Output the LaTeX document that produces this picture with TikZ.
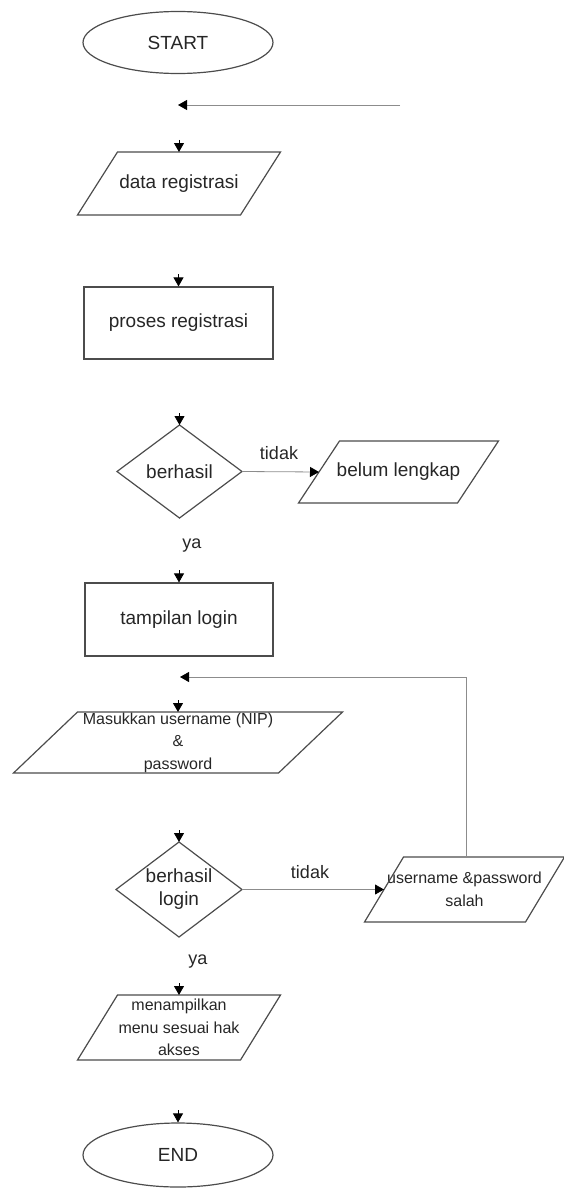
\documentclass[tikz,border=0pt]{standalone}
\usepackage{fontspec}
\setmainfont{Liberation Sans}
\usetikzlibrary{shapes.geometric,arrows.meta}
\begin{document}
\begin{tikzpicture}[x=1pt,y=-1pt,
  every node/.style={text=black!85},
  txt/.style={font=\fontsize{19}{23}\selectfont, align=center},
  small/.style={font=\fontsize{16}{22.5}\selectfont, align=center},
  lbl/.style={font=\fontsize{18}{22}\selectfont, inner sep=0pt},
  term/.style={ellipse, draw=black!70, line width=1.2pt, minimum width=190pt,
    minimum height=62pt, inner sep=0pt, txt},
  procbox/.style={rectangle, draw=black!70, line width=1.2pt, inner sep=0pt, txt},
  frame/.style={rectangle, inner sep=0pt, outer sep=0pt},
  outline/.style={draw=black!70, line width=1.2pt, line join=miter},
  tip/.style={-{Triangle[length=9pt,width=10pt,color=black]}},
  flow/.style={draw=black!45, line width=0.8pt, tip},
  stub/.style={draw=black, line width=0.8pt, tip}
]
\useasboundingbox (0,0) rectangle (564,1188);

% terminals, boxes and text frames
\node[term] (start) at (178,42.5) {START};
\node[frame, txt, minimum width=163pt, minimum height=63pt] (data) at (179,183.5) {data registrasi};
\node[procbox, minimum width=189pt, minimum height=72pt] (proses) at (178.5,323) {proses registrasi};
\node[frame, txt, minimum width=125pt, minimum height=93pt] (cek1) at (179.5,471.5) {berhasil};
\node[frame, txt, minimum width=159pt, minimum height=62pt] (kurang) at (398.5,472) {belum lengkap};
\node[procbox, minimum width=188pt, minimum height=73pt] (login) at (179,619.5) {tampilan login};
\node[frame, small, minimum width=265pt, minimum height=61pt] (masuk) at (178,742.5)
  {Masukkan username (NIP)\\\&\\password};
\node[frame, txt, minimum width=126pt, minimum height=95pt] (cek2) at (179,889.5) {berhasil\\login};
\node[frame, small, minimum width=161pt, minimum height=65pt] (salah) at (464.5,889.5)
  {username \&password\\salah};
\node[frame, small, minimum width=163pt, minimum height=65pt] (menu) at (179,1027.5)
  {menampilkan\\menu sesuai hak\\akses};
\node[term, minimum height=64pt] (end) at (178,1155) {END};

% input/output parallelograms
\foreach \n/\h in {data/20, kurang/20.5, masuk/32, salah/19.5, menu/20}
  \draw[outline] ([xshift=\h pt]\n.north west) -- ([xshift=\h pt]\n.north east)
    -- ([xshift=-\h pt]\n.south east) -- ([xshift=-\h pt]\n.south west) -- cycle;

% decision diamonds
\foreach \n in {cek1, cek2}
  \draw[outline] (\n.north) -- (\n.east) -- (\n.south) -- (\n.west) -- cycle;

% incoming arrow heads on top of each step
\foreach \n in {data, proses, cek1, login, masuk, cek2, menu, end}
  \draw[stub] ([yshift=12pt]\n.north) -- (\n.north);

% side feed line
\coordinate (feedA) at (400,105);
\coordinate (feedB) at (178,105);
\draw[flow] (feedA) -- (feedB);

% branches
\draw[flow] (cek1.east) -- (kurang.west);
\draw[flow] (cek2.east) -- (salah.west);
\node[lbl] (t1) at (279,453) {tidak};
\node[lbl] (t2) at (310,872) {tidak};
\node[lbl] (y1) at (192,546) {ya};
\node[lbl] (y2) at (198,962) {ya};

% retry loop back to the login input
\coordinate (loopTop) at (466,677);
\coordinate (loopEnd) at (180,677);
\draw[flow] (salah.north -| loopTop) -- (loopTop) -- (loopEnd);
\end{tikzpicture}
\end{document}
